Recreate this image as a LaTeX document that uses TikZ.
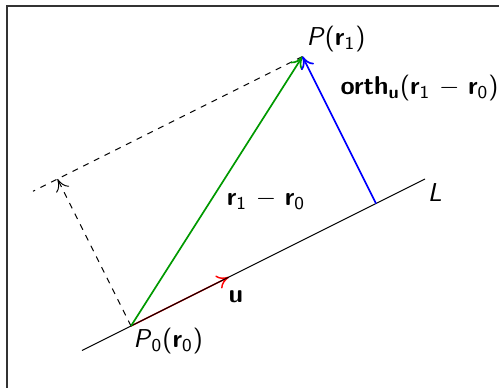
\documentclass[tikz,border=0pt]{standalone}
\usetikzlibrary{arrows.meta}
\newcommand{\bv}[1]{\textbf{#1}}
\newcommand{\sub}[1]{\textsubscript{#1}}

\begin{document}
\begin{tikzpicture}[x=0.72cm, y=0.72cm, font=\sffamily\fontsize{10.8pt}{13pt}\selectfont,
    >={To[length=5pt, width=6pt]},
    vec/.style={->, line width=0.7pt}]
    \useasboundingbox (-2.673,-1.245) rectangle (7.510,6.653);
    \draw[line width=0.8pt, black!80] (-2.531,-3) rectangle (9,6.531);

    \coordinate (P0) at (0,0);
    \coordinate (P1) at (3.5,5.5);
    \coordinate (Lstart) at (-1,-0.5);
    \coordinate (Lend) at (6,3);
    \coordinate (U) at (2,1);
    \coordinate (F) at (5,2.5);
    \coordinate (Q) at (-1.5,3);
    \coordinate (Qext) at (-2,2.75);

    \draw[vec, red, line width=0.6pt] (P0) -- (U);
    \draw[line width=0.4pt] (Lstart) -- (Lend);
    \draw[dashed, dash pattern=on 2.5pt off 2.5pt, ->] (P0) -- (Q);
    \draw[dashed, dash pattern=on 2.5pt off 2.5pt] (P1) -- (Qext);
    \draw[vec, green!60!black] (P0) -- (P1);
    \draw[vec, blue] (F) -- (P1);

    \node[anchor=south west, inner sep=1.5pt] (p1lbl) at (P1) {\textit{P}(\bv{r}\sub{1})};
    \node[anchor=north west, inner sep=0.8pt] (p0lbl) at (P0) {\textit{P}\sub{0}(\bv{r}\sub{0})};
    \node (ulbl) at (2.14,0.59) {\bv{u}};
    \node (difflbl) at (2.755,2.57) {\bv{r}\sub{1} $-$ \bv{r}\sub{0}};
    \node (orthlbl) at (5.89,4.86) {\bv{orth}\sub{\bv{u}}(\bv{r}\sub{1} $-$ \bv{r}\sub{0})};
    \node (llbl) at (6.2,2.73) {\textit{L}};
\end{tikzpicture}
\end{document}
